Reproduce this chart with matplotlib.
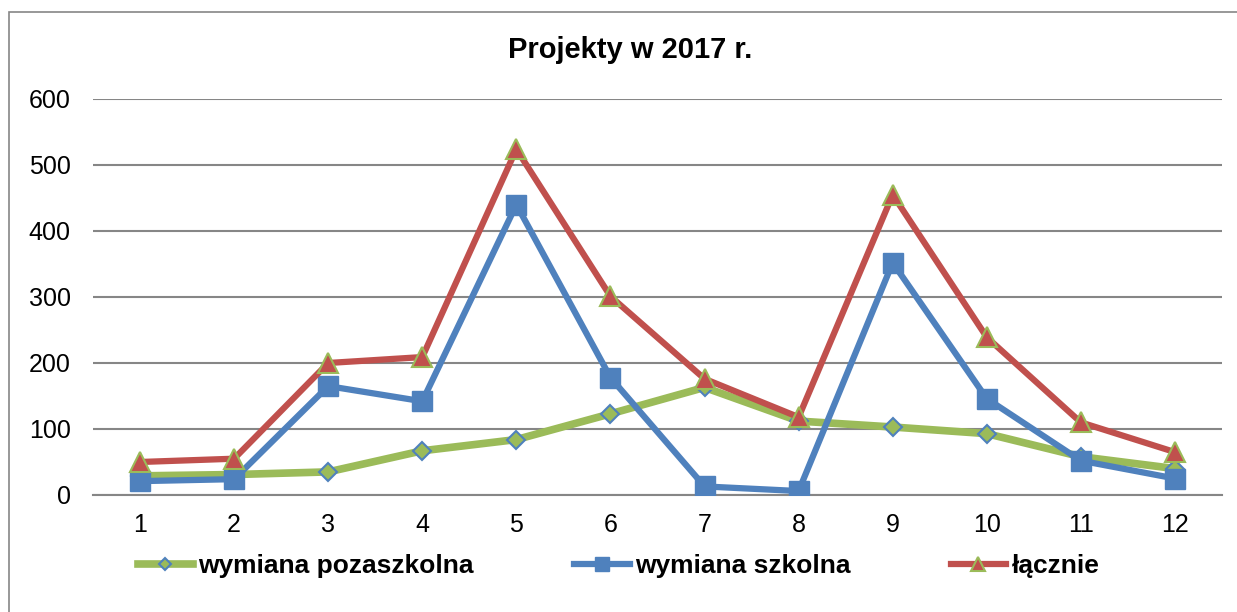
import matplotlib.pyplot as plt
from matplotlib.patches import Rectangle

plt.rcParams['font.family'] = ['Liberation Sans', 'DejaVu Sans']

months = [1, 2, 3, 4, 5, 6, 7, 8, 9, 10, 11, 12]
pozaszkolna = [29, 31, 35, 67, 84, 123, 163, 112, 103, 93, 58, 40]
szkolna = [21, 24, 165, 142, 440, 178, 13, 6, 352, 146, 52, 25]
lacznie = [50, 55, 200, 209, 524, 301, 176, 118, 455, 239, 110, 65]
yticks = [0, 100, 200, 300, 400, 500, 600]

fig = plt.figure(figsize=(12.37, 6.12), dpi=100)
ax = fig.add_axes([93 / 1237, 1 - 495 / 612, (1222 - 93) / 1237, 396 / 612])

# chart border
fig.patches.append(Rectangle((9 / 1237, -0.02), 1.1, 1 - 12 / 612 + 0.02,
                             transform=fig.transFigure, fill=False,
                             edgecolor='#868686', linewidth=1.2))

ax.plot(months, pozaszkolna, color='#9BBB59', linewidth=5.5, marker='D',
        markersize=9, markerfacecolor='#9BBB59', markeredgecolor='#4F81BD',
        markeredgewidth=1.5, label='wymiana pozaszkolna', zorder=3)
ax.plot(months, szkolna, color='#4F81BD', linewidth=4.5, marker='s',
        markersize=14, markerfacecolor='#4F81BD', markeredgecolor='#4F81BD',
        label='wymiana szkolna', zorder=4)
ax.plot(months, lacznie, color='#C0504D', linewidth=4.5, marker='^',
        markersize=15, markerfacecolor='#C0504D', markeredgecolor='#9BBB59',
        markeredgewidth=1.5, label='łącznie', zorder=5)

ax.set_xlim(0.5, 12.5)
ax.set_ylim(0, 600)
ax.set_yticks(yticks)
ax.set_xticks(months)
ax.tick_params(axis='both', length=0, labelsize=18)
ax.tick_params(axis='y', pad=16)
ax.tick_params(axis='x', pad=13)
ax.grid(axis='y', color='#868686', linewidth=1.5)
ax.set_axisbelow(True)
for side in ['top', 'right', 'left']:
    ax.spines[side].set_visible(False)
ax.spines['bottom'].set_color('#868686')
ax.spines['bottom'].set_linewidth(1.5)

fig.text(630 / 1237, 1 - 50 / 612, 'Projekty w 2017 r.', ha='center', va='center',
         fontsize=21, fontweight='bold')

leg = fig.legend(loc='center', bbox_to_anchor=(0.5, 1 - 566 / 612), ncol=3,
                 frameon=False, prop={'size': 19, 'weight': 'bold'},
                 columnspacing=3.8, handlelength=2.1, handletextpad=0.2,
                 markerscale=0.7)

fig.savefig('out.png', dpi=100)
